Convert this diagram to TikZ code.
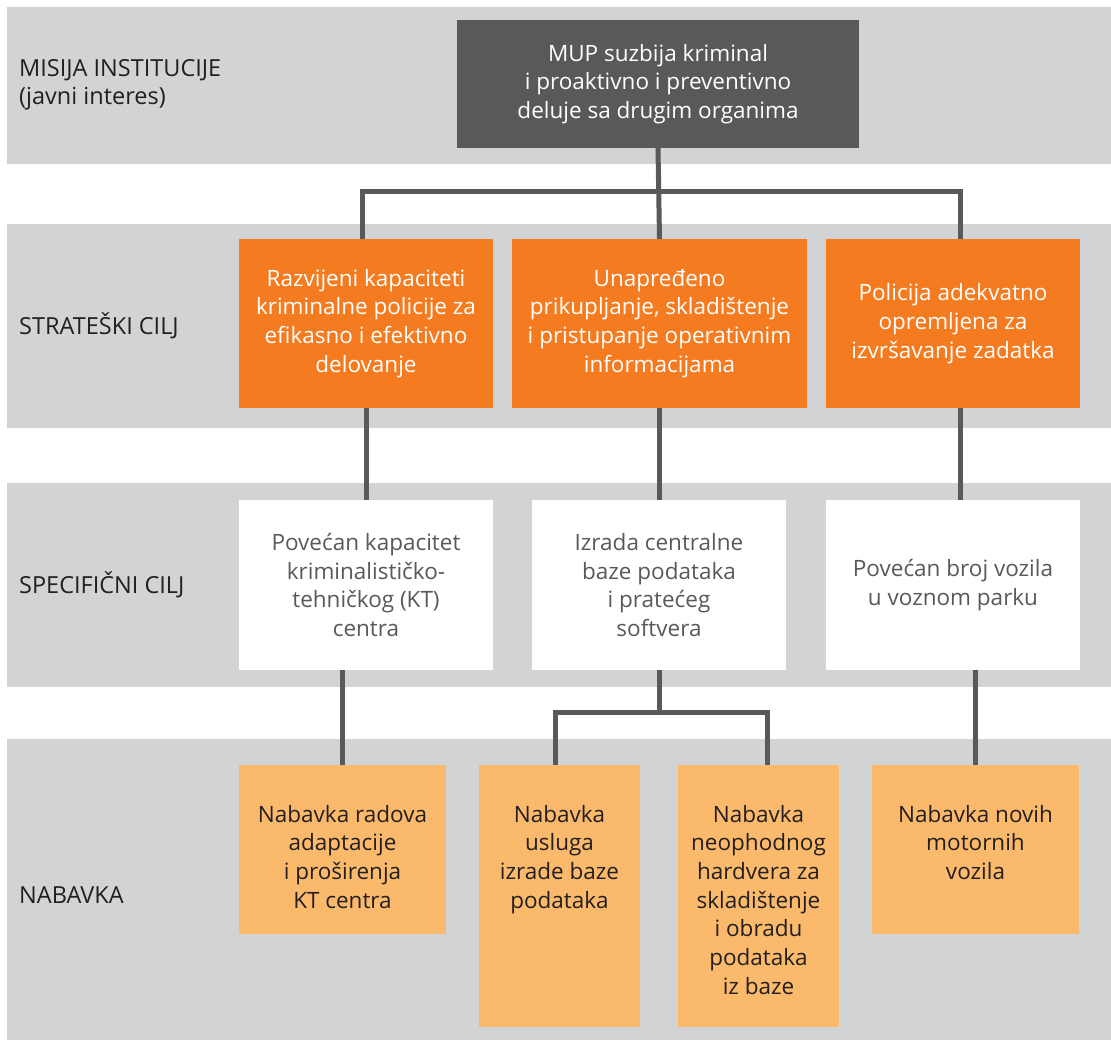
\documentclass[tikz,border=0pt]{standalone}
\usepackage{fontspec}
\setmainfont{Open Sans}
\definecolor{bandgray}{HTML}{D1D3D4}
\definecolor{darkbox}{HTML}{58595B}
\definecolor{orangebox}{HTML}{F47B20}
\definecolor{lightorange}{HTML}{FBB96B}
\definecolor{txtdark}{HTML}{231F20}
\definecolor{txtgray}{HTML}{58595B}
\begin{document}
\begin{tikzpicture}[x=1pt,y=-1pt,
  txt/.style={font=\fontsize{22.5}{28.7}\selectfont},
  band/.style={fill=bandgray, draw=none, inner sep=0pt, minimum width=1104pt},
  boxbase/.style={draw=none, inner sep=0pt, align=center, txt},
  darkstyle/.style={boxbase, fill=darkbox, text=white},
  orangestyle/.style={boxbase, fill=orangebox, text=white},
  whitestyle/.style={boxbase, fill=white, text=txtgray},
  nabstyle/.style={boxbase, fill=lightorange},
  nabtext/.style={txt, text=txtdark, align=center, inner sep=0pt, anchor=north},
  rowlabel/.style={font=\fontsize{23.5}{28.7}\selectfont, text=txtdark, align=left, inner sep=0pt},
  conn/.style={draw=darkbox, line width=5pt}
]
\useasboundingbox[fill=white] (0,0) rectangle (1111,1040);

% bands
\node[band, minimum height=157pt] (b1) at (559,85.5) {};
\node[band, minimum height=204pt] (b2) at (559,326) {};
\node[band, minimum height=204pt] (b3) at (559,585) {};
\node[band, minimum height=301pt] (b4) at (559,889.5) {};

% row labels
\node[rowlabel, anchor=base west] (l1) at (19,77) {MISIJA INSTITUCIJE};
\node[rowlabel, anchor=base west] (l1b) at (19,105) {(javni interes)};
\node[rowlabel, anchor=base west] (l2) at (19,335) {STRATEŠKI CILJ};
\node[rowlabel, anchor=base west] (l3) at (19,593) {SPECIFIČNI CILJ};
\node[rowlabel, anchor=base west] (l4) at (19,903) {NABAVKA};

% mission
\node[darkstyle, minimum width=402pt, minimum height=128pt] (dark) at (658,84)
  {MUP suzbija kriminal\\i proaktivno i preventivno\\deluje sa drugim organima};

% strategic
\node[orangestyle, minimum width=254pt, minimum height=169pt] (o1) at (366,323.5)
  {Razvijeni kapaciteti\\kriminalne policije za\\efikasno i efektivno\\delovanje};
\node[orangestyle, minimum width=295pt, minimum height=169pt] (o2) at (659.5,323.5)
  {Unapređeno\\prikupljanje, skladištenje\\i pristupanje operativnim\\informacijama};
\node[orangestyle, minimum width=254pt, minimum height=169pt] (o3) at (953,323.5)
  {Policija adekvatno\\opremljena za\\izvršavanje zadatka};

% specific
\node[whitestyle, minimum width=254pt, minimum height=170pt] (w1) at (366,585)
  {Povećan kapacitet\\kriminalističko-\\tehničkog (KT)\\centra};
\node[whitestyle, minimum width=254pt, minimum height=170pt] (w2) at (659,585)
  {Izrada centralne\\baze podataka\\i pratećeg\\softvera};
\node[whitestyle, minimum width=254pt, minimum height=170pt] (w3) at (953,585)
  {Povećan broj vozila\\u voznom parku};

% procurement
\node[nabstyle, minimum width=207pt, minimum height=169pt] (n1) at (342.5,849.5) {};
\node[nabstyle, minimum width=161pt, minimum height=262pt] (n2) at (559.5,896) {};
\node[nabstyle, minimum width=161pt, minimum height=262pt] (n3) at (758.5,896) {};
\node[nabstyle, minimum width=207pt, minimum height=169pt] (n4) at (975.5,849.5) {};

\node[nabtext] (t1) at ([yshift=-40pt]n1.north) {Nabavka radova\\adaptacije\\i proširenja\\KT centra};
\node[nabtext] (t2) at ([yshift=-40pt]n2.north) {Nabavka\\usluga\\izrade baze\\podataka};
\node[nabtext] (t3) at ([yshift=-40pt]n3.north) {Nabavka\\neophodnog\\hardvera za\\skladištenje\\i obradu\\podataka\\iz baze};
\node[nabtext] (t4) at ([yshift=-40pt]n4.north) {Nabavka novih\\motornih\\vozila};

% connectors
\coordinate (j1) at (659,192);
\draw[conn] (dark.south) -- (o2.north);
\draw[conn] ([xshift=-4pt]o1.north) |- (j1) -| ([xshift=7pt]o3.north);

\draw[conn] (o1.south) -- (w1.north);
\draw[conn] (o2.south) -- (o2.south |- w2.north);
\draw[conn] ([xshift=7pt]o3.south) -- ([xshift=7pt]w3.north);

\coordinate (j2) at (659,712);
\draw[conn] (n1.north |- w1.south) -- (n1.north);
\draw[conn] (w2.south) -- (j2);
\draw[conn] ([xshift=-4.5pt]n2.north) |- (j2) -| ([xshift=8.5pt]n3.north);
\draw[conn] (n4.north |- w3.south) -- (n4.north);
\end{tikzpicture}
\end{document}
